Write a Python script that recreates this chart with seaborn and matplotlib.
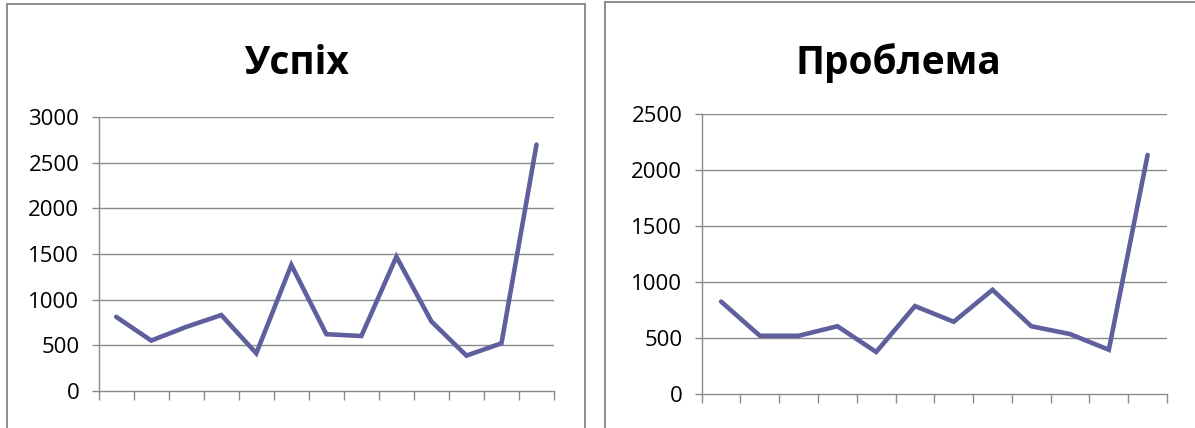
import matplotlib
matplotlib.use("Agg")
import matplotlib.pyplot as plt
from matplotlib.patches import Rectangle
import seaborn as sns
import pandas as pd
import numpy as np

# Series values
success_values = [810, 550, 700, 830, 410, 1380, 620, 600, 1470, 760, 385, 520, 2700]
problem_values = [825, 520, 520, 605, 375, 785, 645, 930, 605, 535, 395, 2135]
titles = ["Успіх", "Проблема"]
success_yticks = [0, 500, 1000, 1500, 2000, 2500, 3000]
problem_yticks = [0, 500, 1000, 1500, 2000, 2500]

sns.set_theme(style="white")
plt.rcParams["font.family"] = ["Open Sans", "DejaVu Sans"]

LINE_COLOR = "#5E5F9C"
GRID_COLOR = "#8A8A8A"

fig = plt.figure(figsize=(11.95, 4.28), dpi=100)

W, H = 1195.0, 428.0


def px_rect(x0, y0, x1, y1):
    return [x0 / W, 1 - y1 / H, (x1 - x0) / W, (y1 - y0) / H]


# chart frames
for (x0, y0, x1) in [(7, 4, 585), (605, 2, 1200)]:
    fig.patches.append(Rectangle((x0 / W, -0.05), (x1 - x0) / W, 1 - y0 / H + 0.05,
                                 transform=fig.transFigure, fill=False,
                                 edgecolor="#8C8C8C", linewidth=1.4))

panels = [
    (success_values, success_yticks, px_rect(98.7, 117.3, 554, 390.7), 296),
    (problem_values, problem_yticks, px_rect(701.7, 114, 1167, 394), 898),
]

for (vals, yticks, rect, title_x), title in zip(panels, titles):
    ax = fig.add_axes(rect)
    n = len(vals)
    df = pd.DataFrame({"idx": np.arange(1, n + 1), "value": vals})
    sns.lineplot(data=df, x="idx", y="value", ax=ax, color=LINE_COLOR,
                 linewidth=3.3, solid_capstyle="round", solid_joinstyle="miter")
    ax.set_xlim(0.5, n + 0.5)
    ax.set_ylim(yticks[0], yticks[-1])
    ax.set_xticks(np.arange(0.5, n + 1.0, 1.0))
    ax.set_xticklabels([])
    ax.set_yticks(yticks)
    ax.set_yticklabels([str(t) for t in yticks], fontsize=16, color="black")
    ax.set_xlabel("")
    ax.set_ylabel("")
    for yv in yticks[1:]:
        ax.axhline(yv, color=GRID_COLOR, linewidth=1.0, zorder=0)
    for side in ["top", "right"]:
        ax.spines[side].set_visible(False)
    for side in ["left", "bottom"]:
        ax.spines[side].set_color(GRID_COLOR)
        ax.spines[side].set_linewidth(1.0)
    ax.tick_params(axis="x", direction="out", length=6.5, width=1.0, color=GRID_COLOR,
                   bottom=True)
    ax.tick_params(axis="y", direction="out", length=5, width=1.0, color=GRID_COLOR,
                   left=True, pad=9)
    fig.text(title_x / W, 1 - 63 / H, title, ha="center", va="center",
             fontsize=28, fontweight="bold", color="black")

fig.savefig("out.png", dpi=100, facecolor="white")
